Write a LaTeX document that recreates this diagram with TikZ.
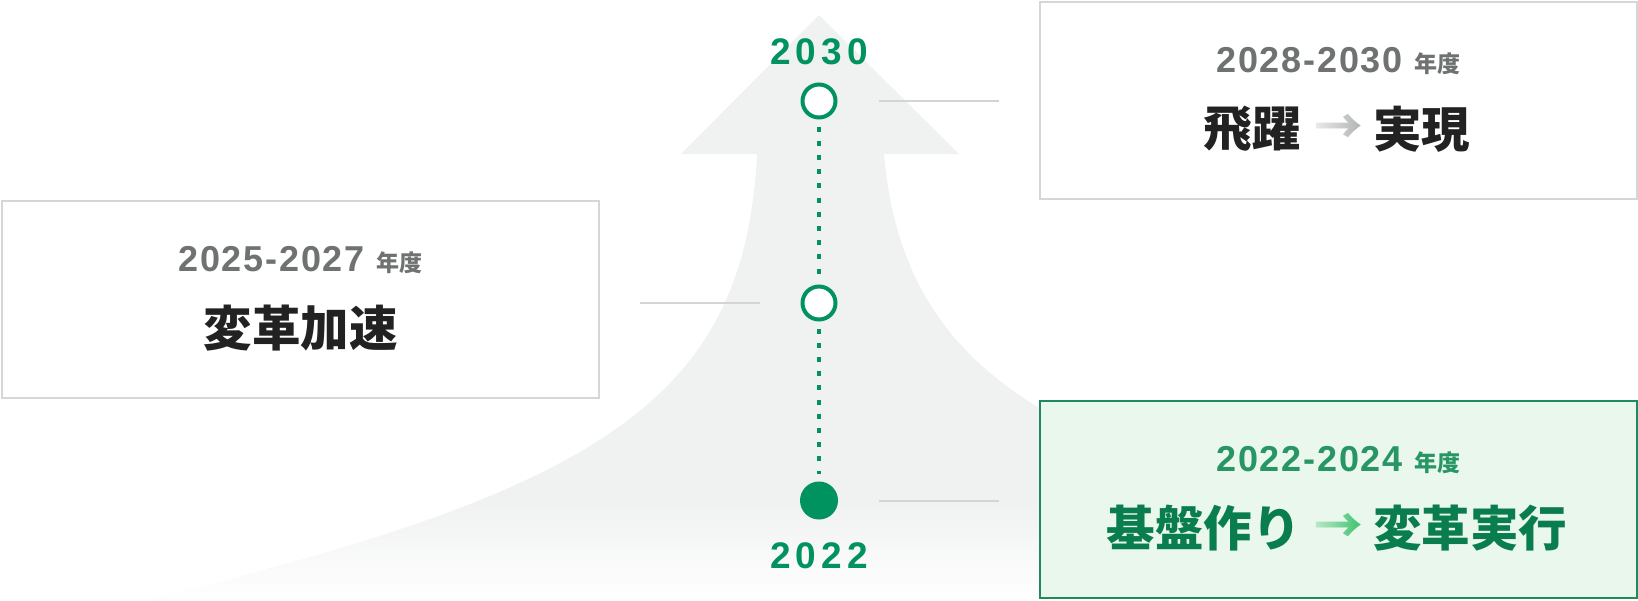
\documentclass[tikz,border=0pt]{standalone}
\usepackage{fontspec}
\setmainfont{Noto Sans CJK JP}
\newfontfamily\digitfont{Liberation Sans}
\usetikzlibrary{positioning, fadings}

\definecolor{bgarrow}{RGB}{240,242,241}
\definecolor{boxline}{RGB}{214,214,214}
\definecolor{linkgray}{RGB}{212,212,212}
\definecolor{greenline}{RGB}{31,138,94}
\definecolor{greenfill}{RGB}{233,247,236}
\definecolor{tgreen}{RGB}{0,146,95}
\definecolor{headgray}{RGB}{110,114,112}
\definecolor{headgreen}{RGB}{40,150,100}
\definecolor{maindark}{RGB}{34,34,34}
\definecolor{maingreen}{RGB}{10,125,78}
\definecolor{arrowgray}{RGB}{176,178,177}
\definecolor{arrowgreen}{RGB}{56,192,108}

\tikzfading[name=fadebottom, top color=transparent!100, bottom color=transparent!0]
\tikzfading[name=fadearrow, left color=transparent!25, right color=transparent!100]

\tikzset{
  box/.style={draw=boxline, line width=2pt, fill=white, minimum width=597pt,
    minimum height=197pt, inner sep=0pt, outer sep=0pt},
  goalbox/.style={box, draw=greenline, fill=greenfill},
  ring/.style={circle, draw=tgreen, line width=4pt, fill=white, minimum size=33pt, inner sep=0pt},
  dot/.style={circle, fill=tgreen, minimum size=38pt, inner sep=0pt},
  year/.style={text=tgreen, inner sep=0pt,
    font=\fontsize{37}{40}\selectfont\digitfont\bfseries\addfontfeature{LetterSpace=14}},
  span/.style={text=headgray, inner sep=0pt, anchor=base,
    font=\fontsize{36}{40}\selectfont\digitfont\bfseries\addfontfeature{LetterSpace=5}},
  goal/.style={text=maindark, inner sep=0pt, font=\fontsize{48.5}{52}\selectfont\bfseries},
  link/.style={draw=linkgray, line width=2pt, shorten <=41pt, shorten >=41pt},
  track/.style={draw=tgreen, line width=4pt, dash pattern=on 5pt off 9.2pt,
    shorten <=7pt, shorten >=7pt},
}
\newcommand{\nendo}{{\fontsize{23}{26}\selectfont\rmfamily\bfseries 年度}}

\begin{document}
\begin{tikzpicture}[x=1pt, y=-1pt]
\useasboundingbox (0,0) rectangle (1638,600);
%
% background arrow
\fill[bgarrow] (819,15) -- (959,154) -- (884,154)
  .. controls (895,280) and (950,360) .. (1060,420) -- (1060,600) -- (146,600)
  .. controls (600,490) and (745,400) .. (757,154) -- (681,154) -- cycle;
\fill[white, path fading=fadebottom] (0,500) rectangle (1638,600);
%
% period boxes
\node[box] (box30) at (1338.5,100) {};
\node[box] (box25) at (300.5,299) {};
\node[goalbox] (box22) at (1338.5,499.5) {};
%
% timeline
\node[ring] (c30) at (819,101) {};
\node[ring] (c27) at (819,303) {};
\node[dot] (c22) at (819,500.5) {};
\node[year, above=17pt of c30] (y30) {2030};
\node[year, below=23pt of c22] (y22) {2022};
\draw[track] (c30) -- (c27);
\draw[track] (c27) -- (c22);
%
\draw[link] (c30) -- (c30 -| box30.west);
\draw[link] (c27) -- (c27 -| box25.east);
\draw[link] (c22) -- (c22 -| box22.west);
%
% 2028-2030
\node[span] (h30) at (box30.center) [yshift=28pt] {2028-2030 \nendo};
\node[goal, text=arrowgray] (a30) at (box30.center) [yshift=-29pt] {→};
\fill[white, path fading=fadearrow] (a30.south west) rectangle (a30.north east);
\node[goal, left=13pt of a30] (w30a) {飛躍};
\node[goal, right=10pt of a30] (w30b) {実現};
%
% 2025-2027
\node[span] (h25) at (box25.center) [yshift=28pt] {2025-2027 \nendo};
\node[goal] (w25) at (box25.center) [yshift=-29pt] {変革加速};
%
% 2022-2024
\node[span, text=headgreen] (h22) at (box22.center) [yshift=28pt] {2022-2024 \nendo};
\node[goal, text=arrowgreen] (a22) at (box22.center) [yshift=-29pt] {→};
\fill[greenfill, path fading=fadearrow] (a22.south west) rectangle (a22.north east);
\node[goal, text=maingreen, left=13pt of a22] (w22a) {基盤作り};
\node[goal, text=maingreen, right=10pt of a22] (w22b) {変革実行};
%
\end{tikzpicture}
\end{document}
